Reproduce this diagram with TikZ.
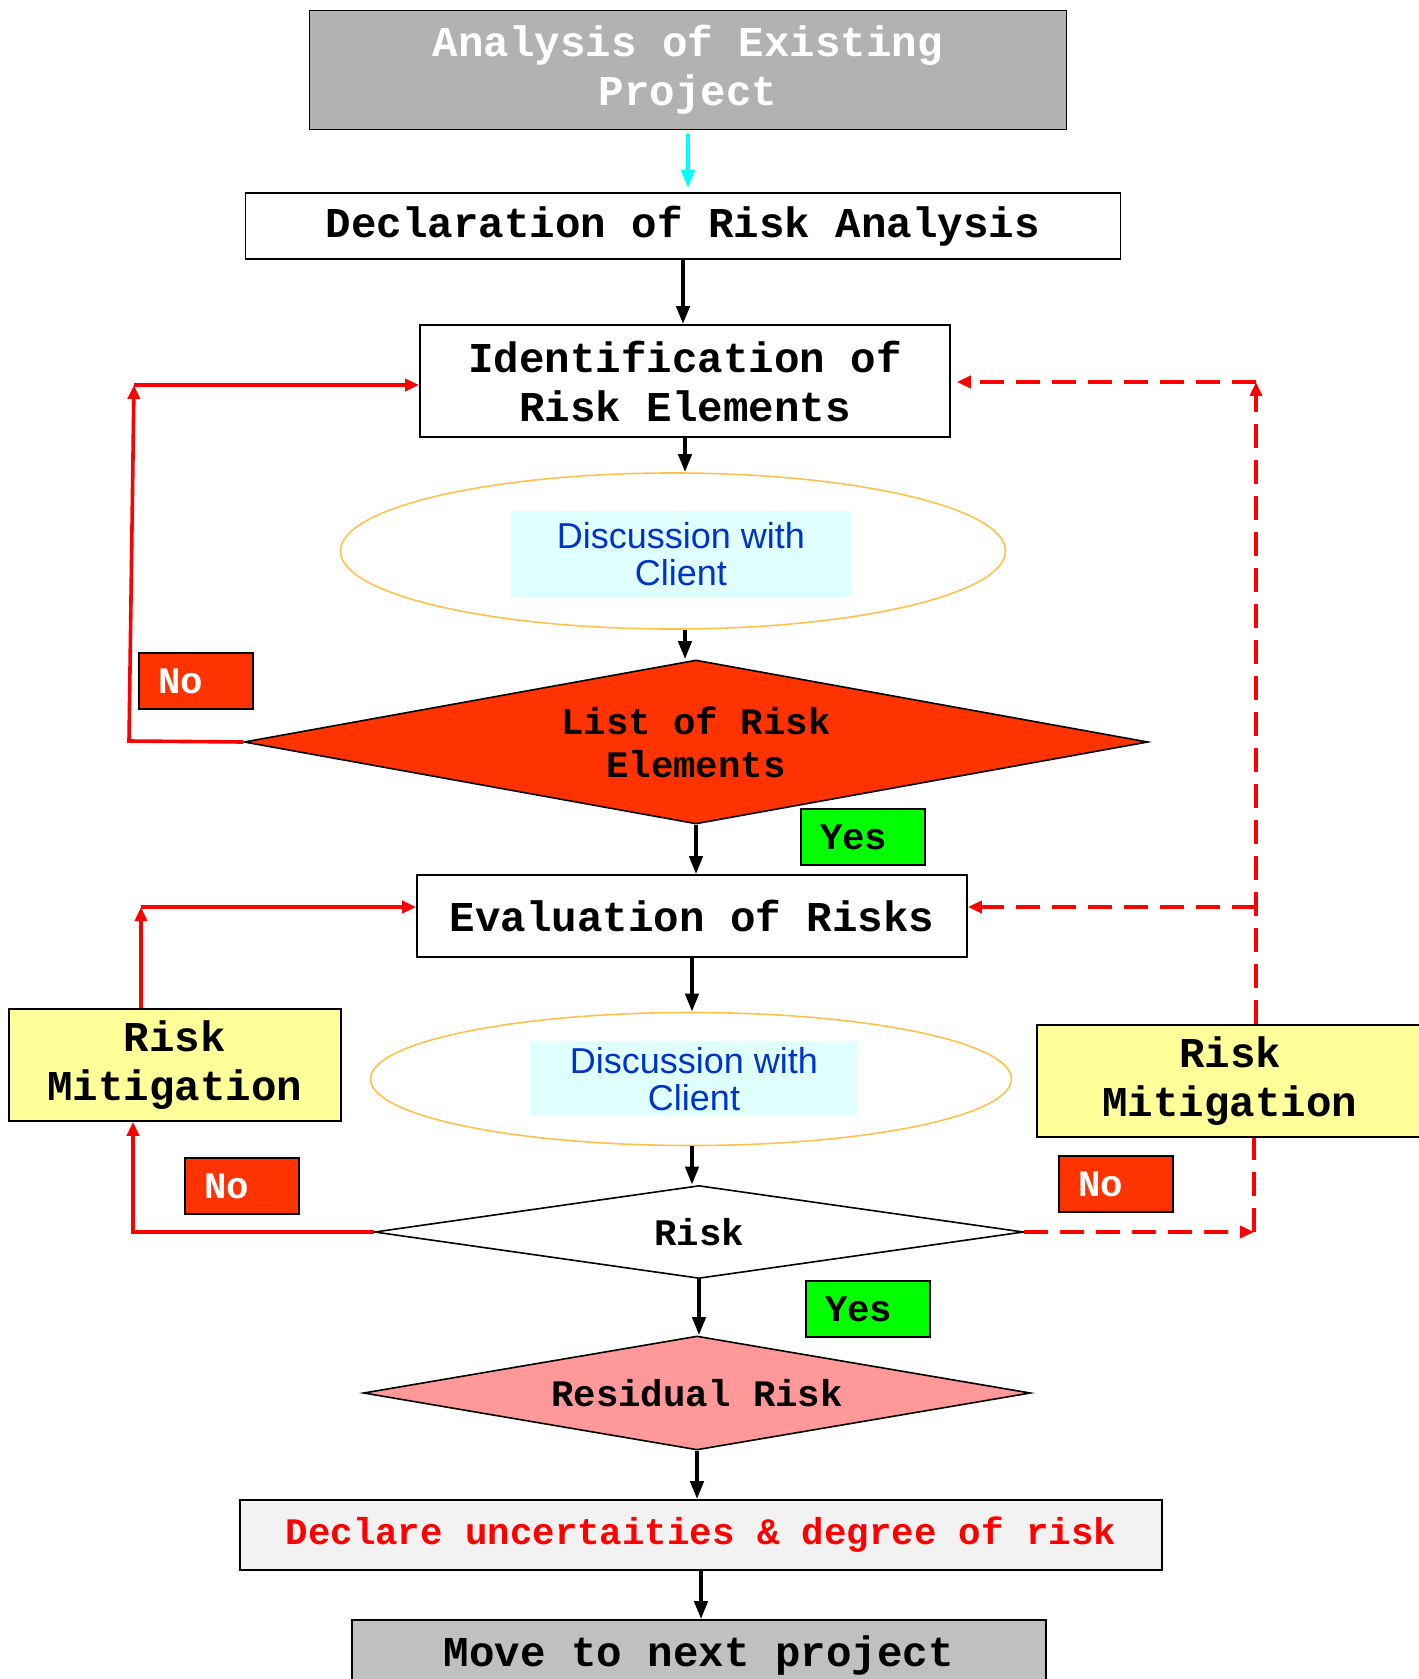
\documentclass[tikz,border=0pt]{standalone}
\usepackage{fontspec}
\usetikzlibrary{shapes.geometric,arrows.meta}
\newfontfamily\cour{Liberation Mono}
\newfontfamily\arial{Liberation Sans}
\definecolor{boxgray}{HTML}{B2B2B2}
\definecolor{nored}{HTML}{FF3300}
\definecolor{pinkrisk}{HTML}{FF9999}
\definecolor{mitig}{HTML}{FFFF99}
\definecolor{talkblue}{HTML}{0033CC}
\definecolor{talkbg}{HTML}{E0FFFF}
\definecolor{rimorange}{HTML}{FFC04C}
\definecolor{movegray}{HTML}{C0C0C0}
\definecolor{declgray}{HTML}{F2F2F2}
\definecolor{startcyan}{HTML}{00FFFF}

\begin{document}
\begin{tikzpicture}[x=0.5pt, y=-0.5pt,
  main/.style = {draw, line width=0.8pt, inner sep=0pt, align=center, font=\cour\bfseries\fontsize{21.25}{24.5}\selectfont},
  small/.style = {font=\cour\bfseries\fontsize{18.7}{21.5}\selectfont},
  dia/.style = {draw, diamond, line width=0.8pt, inner sep=0pt, align=center, small},
  talk/.style = {draw=rimorange, ellipse, line width=0.8pt},
  talktext/.style = {fill=talkbg, text=talkblue, align=center, inner sep=0pt, font=\arial\fontsize{18}{18.2}\selectfont},
  tag/.style = {draw, line width=0.8pt, small, minimum height=28pt, inner xsep=9.5pt, text width=38pt, align=left},
  flow/.style = {line width=2pt, -{Triangle[length=9pt,width=6.5pt]}},
  back/.style = {red, line width=1.8pt},
  backarr/.style = {back, -{Triangle[length=7pt,width=6pt]}},
  backdash/.style = {back, dash pattern=on 12pt off 6pt}]
\useasboundingbox (0,0) rectangle (1418,1679);

% main column
\node[main, fill=boxgray, text=white, minimum width=378.5pt, minimum height=59.5pt] (ana) at (688,70) {Analysis of Existing\\Project};
\node[main, minimum width=437.5pt, minimum height=33pt] (decl) at (683,226) {Declaration of Risk Analysis};
\node[main, minimum width=265pt, minimum height=56pt] (ident) at (685,381) {Identification of\\Risk Elements};
\node[talk, minimum width=332.5pt, minimum height=78pt] (disc1) at (673,551) {};
\node[talktext, minimum width=170pt, minimum height=43.5pt] (disc1t) at (681,554) {Discussion with\\Client};
\node[dia, fill=nored, aspect=5.5, minimum width=452pt, minimum height=82pt] (list) at (696,742) {List of Risk\\Elements};
\node[main, minimum width=275pt, minimum height=41pt] (eval) at (692,916) {Evaluation of Risks};
\node[talk, minimum width=320.5pt, minimum height=66.5pt] (disc2) at (691,1079) {};
\node[talktext, minimum width=163.5pt, minimum height=37pt] (disc2t) at (693,1078) {};
\begin{scope}
\clip (disc2t.north west) rectangle (disc2t.south east);
\node[talktext, fill=none] (disc2x) at (694,1079) {Discussion with\\Client};
\end{scope}
\node[dia, aspect=7, minimum width=324.5pt, minimum height=46.5pt] (risk) at (699,1232) {Risk};
\node[dia, fill=pinkrisk, aspect=5.85, minimum width=333.5pt, minimum height=57pt] (resid) at (697,1393) {Residual Risk};
\node[main, small, fill=declgray, text=red, minimum width=461pt, minimum height=35pt] (declare) at (701,1535) {Declare uncertaities \& degree of risk};
\node[main, fill=movegray, minimum width=347pt, minimum height=35pt] (move) at (699,1655) {Move to next project};

% side boxes
\node[main, fill=mitig, minimum width=166pt, minimum height=56pt] (rmL) at (175,1065) {Risk\\Mitigation};
\node[main, fill=mitig, minimum width=193pt, minimum height=56pt] (rmR) at (1230,1081) {Risk\\Mitigation};

% yes / no tags
\node[tag, fill=nored, text=white] (no1) at (196,681) {No};
\node[tag, fill=green, text width=43pt] (yes1) at (863,837) {Yes};
\node[tag, fill=nored, text=white] (no2) at (242,1186) {No};
\node[tag, fill=nored, text=white] (no3) at (1116,1184) {No};
\node[tag, fill=green, text width=43pt] (yes2) at (868,1309) {Yes};

% loop corners
\coordinate (ltop) at (134,385);
\coordinate (lbot) at (129,741);
\coordinate (mtop) at (141,907);
\coordinate (rbot) at (133,1232);
\coordinate (dtop) at (1256,382);
\coordinate (dmid) at (1256,907);
\coordinate (dbot) at (1254,1232);

\draw[flow, startcyan, shorten <=2pt, shorten >=2pt] (ana.south) -- (ana.south |- decl.north);
\draw[flow] (decl.south) -- (decl.south |- ident.north);
\draw[flow] (ident.south) -- (ident.south |- disc1.north);
\draw[flow] (disc1.south -| ident.south) -- (ident.south |- list.north);
\draw[flow] (list.south) -- (list.south |- eval.north);
\draw[flow] (eval.south) -- (eval.south |- disc2.north);
\draw[flow] (disc2.south -| eval.south) -- (eval.south |- risk.north);
\draw[flow] (risk.south) -- (risk.south |- resid.north);
\draw[flow] (resid.south) -- (resid.south |- declare.north);
\draw[flow] (declare.south) -- (declare.south |- move.north);

\draw[backarr] (list.west) -- (lbot) -- (ltop);
\draw[backarr] (ltop) -- (ltop -| ident.west);
\draw[backarr] (mtop |- rmL.north) -- (mtop);
\draw[backarr] (mtop) -- (mtop -| eval.west);
\draw[backarr] (risk.west) -- (rbot) -- (rbot |- rmL.south);

\draw[backdash, -{Triangle[length=7pt,width=6pt]}] (risk.east) -- (dbot);
\draw[backdash] (dbot) -- (dbot |- rmR.south);
\draw[backdash, -{Triangle[length=7pt,width=6pt]}] (dtop |- rmR.north) -- (dtop);
\draw[backdash, -{Triangle[length=7pt,width=6pt]}, shorten >=3pt] (dtop) -- (dtop -| ident.east);
\draw[backdash, -{Triangle[length=7pt,width=6pt]}] (dmid) -- (dmid -| eval.east);
\end{tikzpicture}
\end{document}
